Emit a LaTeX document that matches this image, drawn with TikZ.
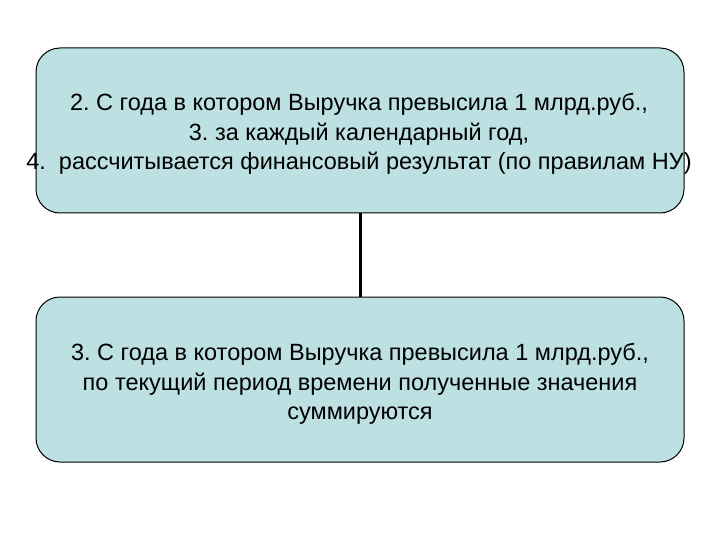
\documentclass[tikz,border=0pt]{standalone}
\usepackage{fontspec}
\setmainfont{Liberation Sans}
\frenchspacing
\definecolor{boxfill}{RGB}{189,224,227}
\begin{document}
\begin{tikzpicture}[x=1pt,y=-1pt,
  panel/.style={draw=black,line width=1pt,fill=boxfill,rounded corners=24pt,
    minimum width=648pt,minimum height=165pt,inner sep=0pt},
  txt/.style={align=center,inner sep=0pt,font=\fontsize{23.5pt}{29.5pt}\selectfont,text=black}]
\useasboundingbox (0,0) rectangle (720,540);
\node[panel] (top) at (360,130.5) {};
\node[panel] (bot) at (360,379.5) {};
\draw[line width=3pt] (top.south) -- (bot.north);
\node[txt] (ttop) at (359,134) {2. С года в котором Выручка превысила 1 млрд.руб.,\\
3. за каждый календарный год,\\
4.\ \ рассчитывается финансовый результат (по правилам НУ)};
\node[txt] (tbot) at (360,384) {3. С года в котором Выручка превысила 1 млрд.руб.,\\
по текущий период времени полученные значения\\
суммируются};
\end{tikzpicture}
\end{document}
